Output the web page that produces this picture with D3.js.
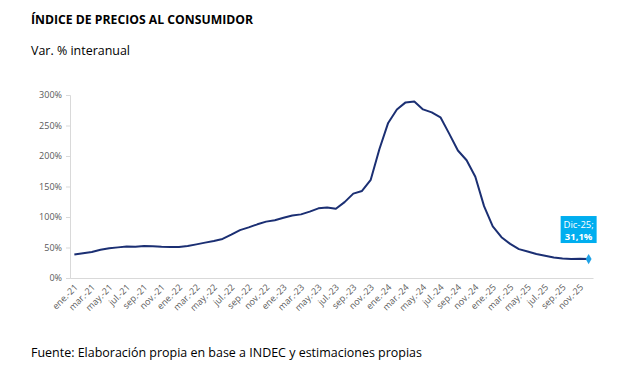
<!DOCTYPE html>
<html>
<head>
<meta charset="utf-8">
<script src="https://cdn.jsdelivr.net/npm/d3@7"></script>
<style>
body { margin: 0; background: #fff; }
svg text { font-family: "Open Sans", "Noto Sans", sans-serif; }
</style>
</head>
<body>
<div id="chart"></div>
<script>
var svgWidth = 640;
var svgHeight = 373;

// meses ene-21 .. dic-25
var monthNames = ['ene.', 'feb.', 'mar.', 'abr.', 'may.', 'jun.', 'jul.', 'ago.', 'sep.', 'oct.', 'nov.', 'dic.'];
var years = ['21', '22', '23', '24', '25'];
var months = [];
years.forEach(function(y) {
	monthNames.forEach(function(m) { months.push(m + '-' + y); });
});

// var. % interanual
var ipc = [
	38.5, 40.7, 42.6, 46.3, 48.8, 50.2, 51.8, 51.4, 52.5, 52.1, 51.2, 50.9,
	50.7, 52.3, 55.1, 58.0, 60.7, 64.0, 71.0, 78.5, 83.0, 88.0, 92.4, 94.8,
	98.8, 102.5, 104.3, 108.8, 114.2, 115.6, 113.4, 124.4, 138.3, 142.7, 160.9, 211.4,
	254.2, 276.2, 287.9, 289.4, 276.4, 271.5, 263.4, 236.7, 209.0, 193.0, 166.0, 117.8,
	84.5, 66.9, 55.9, 47.3, 43.5, 39.4, 36.6, 33.6, 31.8, 31.3, 31.4, 31.1
];
var yTicks = [0, 50, 100, 150, 200, 250, 300];

var margin = {top: 95, left: 70, right: 47, bottom: 95};
var chartWidth = svgWidth - margin.left - margin.right;
var chartHeight = svgHeight - margin.top - margin.bottom;

var svg = d3.select('#chart').append('svg')
.attr('width', svgWidth)
.attr('height', svgHeight);

svg.append('text')
.attr('x', 31).attr('y', 24)
.attr('font-size', '13px')
.attr('font-weight', 'bold')
.attr('fill', '#000')
.attr('textLength', 222)
.attr('lengthAdjust', 'spacingAndGlyphs')
.text('ÍNDICE DE PRECIOS AL CONSUMIDOR');

svg.append('text')
.attr('x', 31).attr('y', 55)
.attr('font-size', '13px')
.attr('fill', '#000')
.attr('textLength', 99)
.attr('lengthAdjust', 'spacingAndGlyphs')
.text('Var. % interanual');

svg.append('text')
.attr('x', 31).attr('y', 357)
.attr('font-size', '13px')
.attr('fill', '#000')
.attr('textLength', 391)
.attr('lengthAdjust', 'spacingAndGlyphs')
.text('Fuente: Elaboración propia en base a INDEC y estimaciones propias');

var chartGroup = svg.append('g')
.attr('transform', `translate(${margin.left}, ${margin.top})`);

var xScale = d3.scaleBand()
.domain(months)
.range([0, chartWidth]);

var yScale = d3.scaleLinear()
.domain([0, 300])
.range([chartHeight, 0]);

// eje y
var leftAxis = d3.axisLeft(yScale)
.tickValues(yTicks)
.tickSize(4)
.tickPadding(4)
.tickFormat(d => d + '%');
var yAxis = chartGroup.append('g').call(leftAxis);
yAxis.selectAll('path, line').attr('stroke', '#d9d9d9');
yAxis.selectAll('text')
.attr('fill', '#595959')
.attr('font-size', '9px')
.style('font-family', '"Open Sans", sans-serif');

// eje x
var bottomAxis = d3.axisBottom(xScale)
.tickValues(months.filter((d, i) => i % 2 == 0))
.tickSize(0)
.tickPadding(0);
var xAxis = chartGroup.append('g')
.attr('transform', `translate(0, ${chartHeight})`)
.call(bottomAxis);
xAxis.select('.domain').attr('stroke', '#d9d9d9');
xAxis.selectAll('text')
.attr('fill', '#595959')
.attr('font-size', '9px')
.style('font-family', '"Open Sans", sans-serif')
.attr('text-anchor', 'end')
.attr('dy', '0.3em')
.attr('transform', 'translate(2, 8) rotate(-45)');

var half = xScale.bandwidth() / 2;
var line = d3.line()
.x((d, i) => xScale(months[i]) + half)
.y(d => yScale(d));

chartGroup.append('path')
.datum(ipc)
.attr('fill', 'none')
.attr('stroke', '#1b2f73')
.attr('stroke-width', 2)
.attr('stroke-linejoin', 'round')
.attr('d', line);

// ultimo punto
var lastI = ipc.length - 1;
var lx = xScale(months[lastI]) + half;
var ly = yScale(ipc[lastI]);
chartGroup.append('path')
.attr('d', d3.symbol().type(d3.symbolDiamond).size(30))
.attr('transform', `translate(${lx}, ${ly})`)
.attr('fill', '#1fa2e6');

var box = chartGroup.append('g')
.attr('transform', `translate(${lx - 28}, ${ly - 43})`);
box.append('rect')
.attr('width', 36).attr('height', 27)
.attr('fill', '#00aeef');
box.append('text')
.attr('x', 18).attr('y', 12)
.attr('text-anchor', 'middle')
.attr('fill', '#fff')
.attr('font-size', '9.5px')
.text('Dic-25;');
box.append('text')
.attr('x', 18).attr('y', 24)
.attr('text-anchor', 'middle')
.attr('fill', '#fff')
.attr('font-size', '9.5px')
.attr('font-weight', 'bold')
.text(String(ipc[lastI]).replace('.', ',') + '%');
</script>
</body>
</html>
